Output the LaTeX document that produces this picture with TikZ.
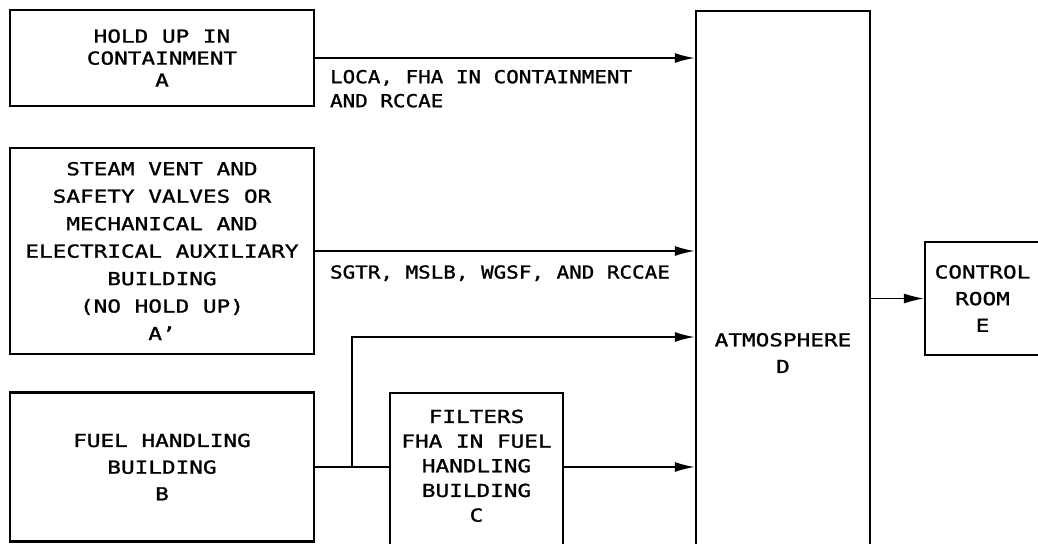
\documentclass[tikz,border=0pt]{standalone}
\usepackage{fontspec}
\setmainfont{DejaVu Sans Mono}[FakeStretch=1.27,FakeBold=1.3]
\newfontfamily\etiquette{DejaVu Sans Mono}[FakeStretch=1.17,FakeBold=1.3]
\usetikzlibrary{arrows.meta,calc}

\begin{document}
\begin{tikzpicture}[
x=0.75pt,y=-0.75pt,
boite/.style={draw,line width=1.7pt,align=center,inner sep=0pt,
font=\fontsize{13.4}{20}\selectfont},
texte/.style={align=left,inner sep=0pt,anchor=north west,
font=\etiquette\fontsize{13.4}{18}\selectfont},
fleche/.style={line width=1.4pt,-{Latex[length=15pt,width=7.5pt]}},
trait/.style={line width=1.4pt}
]

% Cadre
\useasboundingbox
(0,0)
rectangle
(1038,543);
\clip
(0,0)
rectangle
(1038,543);

% Confinement
\node[boite,minimum width=228pt,minimum height=72pt,
font=\fontsize{13.4}{16.5}\selectfont]
(A) at (162,58)
{HOLD UP IN\\CONTAINMENT\\A};

% Vannes
\node[boite,minimum width=228pt,minimum height=154.5pt,
font=\fontsize{13.4}{20.6}\selectfont]
(Ap) at (162,251)
{STEAM VENT AND\\SAFETY VALVES OR\\MECHANICAL AND\\ELECTRICAL AUXILIARY\\BUILDING\\(NO HOLD UP)\\A'};

% Combustible
\node[boite,minimum width=228pt,minimum height=111.75pt]
(B) at (162,467)
{FUEL HANDLING\\BUILDING\\B};

% Filtres
\node[boite,anchor=north,minimum width=129.75pt,inner ysep=12.4pt,
text depth=150pt,font=\fontsize{13.4}{18.5}\selectfont]
(C) at (476.5,392)
{FILTERS\\FHA IN FUEL\\HANDLING\\BUILDING\\C};

% Atmosphere
\node[boite,minimum width=130.5pt,minimum height=513pt]
(D) at (783,353)
{ATMOSPHERE\\D};

% Salle de commande
\node[boite,minimum width=86.25pt,minimum height=84.75pt]
(E) at (982.5,298.5)
{CONTROL\\ROOM\\E};

% Fuites
\draw[fleche]
(A.east)
--
(A.east -| D.west)
node[texte,at start,xshift=10.5pt,yshift=-8.25pt]
{LOCA, FHA IN CONTAINMENT\\AND RCCAE};

\draw[fleche]
(Ap.east)
--
(Ap.east -| D.west)
node[texte,at start,xshift=10.5pt,yshift=-10pt]
{SGTR, MSLB, WGSF, AND RCCAE};

% Derivation
\coordinate (split) at ($(B.east)!0.5!(B.east -| C.west)$);
\coordinate (bypass) at (D.west |- 0,337);

\draw[trait]
(B.east)
--
(B.east -| C.west);

\draw[fleche]
(split)
|-
(bypass);

\draw[fleche]
(C.east |- B.east)
--
(D.west |- B.east);

% Sortie
\draw[fleche,line width=1pt]
(D.east |- E.west)
--
(E.west);

\end{tikzpicture}
\end{document}
